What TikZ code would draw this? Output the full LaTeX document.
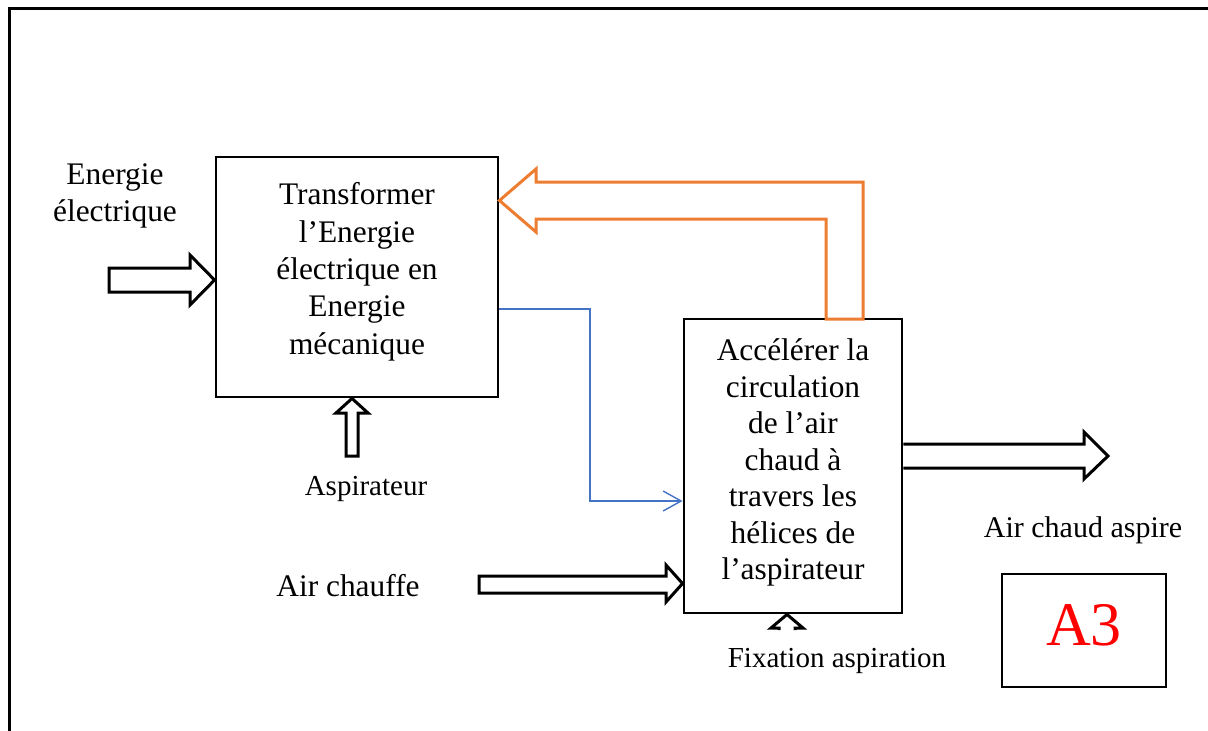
\documentclass[tikz,border=0pt]{standalone}
\usepackage{fontspec}
\setmainfont{Liberation Serif}
\usetikzlibrary{arrows.meta,calc}
\definecolor{accorange}{HTML}{ED7D31}
\definecolor{accblue}{HTML}{4472C4}
\definecolor{tagred}{HTML}{FF0000}
\begin{document}
\begin{tikzpicture}[x=1pt,y=-1pt,
  frame/.style={line width=3pt},
  funcbox/.style={draw,line width=2.9pt,inner sep=0pt},
  blockarrow/.style={draw,fill=white,line width=3pt,line join=miter},
  lbl/.style={font=\fontsize{31.4}{36.5}\selectfont,inner sep=0pt,align=center},
  smalllbl/.style={font=\fontsize{29}{34}\selectfont,inner sep=0pt,align=center},
  feedback/.style={draw=accorange,line width=3pt,line join=miter},
  link/.style={draw=accblue,line width=1.4pt,-{Straight Barb[length=18pt,width=20pt]}}]
  \useasboundingbox (0,0) rectangle (1208,731);

  % outer frame (top and left edges)
  \draw[frame] (9,731) -- (9,8) -- (1208,8);

  % function blocks
  \node[funcbox,minimum width=282pt,minimum height=240pt] (b1) at (357,277) {};
  \node[funcbox,minimum width=218pt,minimum height=294pt] (b2) at (793,466) {};
  \node[funcbox,minimum width=164pt,minimum height=113pt] (tag) at (1084,630.5) {};

  \node[lbl,anchor=north,font=\fontsize{31.4}{37.3}\selectfont] (t1) at (357,182.6)
    {Transformer\\l’Energie\\électrique en\\Energie\\mécanique};
  \node[lbl,anchor=north] (t2) at (793,338.8)
    {Accélérer la\\circulation\\de l’air\\chaud à\\travers les\\hélices de\\l’aspirateur};
  \node[inner sep=0pt,anchor=base,text=tagred,font=\fontsize{62}{70}\selectfont] (tagtext) at (1084,645) {A3};

  % input / output labels
  \node[lbl,anchor=north] (energie) at (115,164) {Energie\\électrique};
  \node[smalllbl,anchor=base] (aspi) at (366,495) {Aspirateur};
  \node[lbl,anchor=base] (airin) at (348,596) {Air chauffe};
  \node[font=\fontsize{30}{35}\selectfont,inner sep=0pt,anchor=base] (airout) at (1083,537) {Air chaud aspire};
  \node[smalllbl,anchor=base] (fix) at (837,667) {Fixation aspiration};

  % block arrows
  \draw[blockarrow] (109,268) -- (190,268) -- (190,255) -- (b1.west |- 0,280) -- (190,305) -- (190,292) -- (109,292) -- cycle;
  \draw[blockarrow] (346,456) -- (346,413) -- (336,413) -- (b1.south -| 352,0) -- (368,413) -- (358,413) -- (358,456) -- cycle;
  \draw[blockarrow] (479,576) -- (666,576) -- (666,565) -- (b2.west |- 0,583.5) -- (666,602) -- (666,593) -- (479,593) -- cycle;
  \draw[blockarrow] (b2.east |- 0,444) -- (1084,444) -- (1084,432) -- (1108,456) -- (1084,479) -- (1084,468) -- (b2.east |- 0,468);
  \draw[blockarrow,fill=none] (779,630) -- (779,628) -- (771,628) -- (b2.south -| 787,0) -- (803,628) -- (795,628) -- (795,630);

  % feedback arrow from the second block back to the first
  \draw[feedback] (826,319) -- (826,219) -- (536,219) -- (536,232) -- (b1.east |- 0,200.5) -- (536,169) -- (536,182) -- (863,182) -- (863,319) -- cycle;

  % mechanical energy link
  \draw[link] ([yshift=-32pt]b1.east) -- (590,309) -- (590,501) -- ([yshift=-35pt]b2.west);
\end{tikzpicture}
\end{document}
